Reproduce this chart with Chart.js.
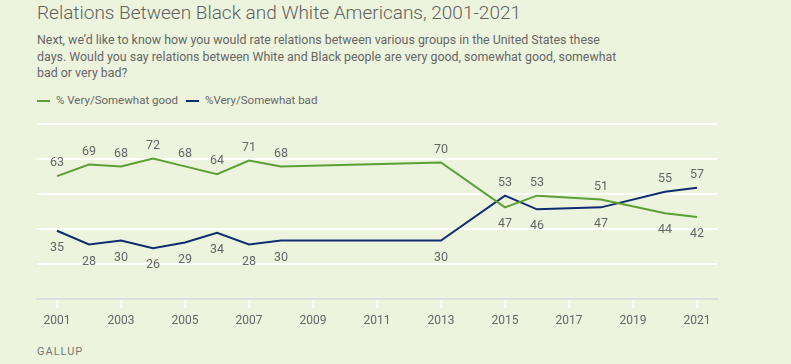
<!DOCTYPE html>
<html>
<head>
<meta charset="utf-8">
<script src="https://cdn.jsdelivr.net/npm/chart.js@4"></script>
<style>
  body { margin: 0; background: #edf4de; width: 791px; height: 364px; overflow: hidden; font-family: Roboto, "Open Sans", sans-serif; color: #666; position: relative; }
  #title { position: absolute; left: 37px; top: 1px; font-size: 19px; font-weight: 300; color: #606060; white-space: nowrap; }
  #sub { position: absolute; left: 37px; top: 32px; font-size: 12.4px; line-height: 16.5px; color: #666; white-space: nowrap; }
  #legend { position: absolute; left: 37px; top: 93px; font-size: 11.5px; color: #666; }
  #legend span.item { margin-right: 5px; }
  #legend span.sw { display: inline-block; width: 13px; height: 2px; vertical-align: middle; margin-right: 6px; }
  #src { position: absolute; left: 37px; top: 345px; font-size: 11px; letter-spacing: 1px; color: #777; }
  #wrap { position: absolute; left: 0; top: 0; width: 791px; height: 364px; }
</style>
</head>
<body>
<div id="title">Relations Between Black and White Americans, 2001-2021</div>
<div id="sub">Next, we’d like to know how you would rate relations between various groups in the United States these<br>days. Would you say relations between White and Black people are very good, somewhat good, somewhat<br>bad or very bad?</div>
<div id="legend"><span class="item"><span class="sw" style="background:#5aa033"></span>% Very/Somewhat good</span> <span class="item"><span class="sw" style="background:#0e2d6e"></span>%Very/Somewhat bad</span></div>
<div id="src">GALLUP</div>
<div id="wrap"><canvas id="chart"></canvas></div>
<script>
const years = [2001, 2002, 2003, 2004, 2005, 2006, 2007, 2008, 2013, 2015, 2016, 2018, 2020, 2021];
const good = [63, 69, 68, 72, 68, 64, 71, 68, 70, 47, 53, 51, 44, 42];
const bad = [35, 28, 30, 26, 29, 34, 28, 30, 30, 53, 46, 47, 55, 57];
const xTicks = [2001, 2003, 2005, 2007, 2009, 2011, 2013, 2015, 2017, 2019, 2021];
const yGrid = [0, 18, 36, 54, 72, 90];

const green = '#5aa033';
const navy = '#0e2d6e';

// labels above or below each point
const pointLabels = {
  id: 'pointLabels',
  afterDatasetsDraw(chart) {
    const ctx = chart.ctx;
    ctx.save();
    ctx.font = '12.5px Roboto, sans-serif';
    ctx.fillStyle = '#666';
    ctx.textAlign = 'center';
    ctx.textBaseline = 'middle';
    chart.data.datasets.forEach((ds, i) => {
      const other = chart.data.datasets[1 - i].data;
      chart.getDatasetMeta(i).data.forEach((pt, j) => {
        const v = ds.data[j].y;
        const above = v >= other[j].y;
        ctx.fillText(String(v), pt.x, above ? pt.y - 13 : pt.y + 17);
      });
    });
    ctx.restore();
  }
};

new Chart(document.getElementById('chart'), {
  type: 'line',
  data: {
    datasets: [
      { label: '% Very/Somewhat good', data: years.map((y, i) => ({ x: y, y: good[i] })), borderColor: green, borderWidth: 2, pointRadius: 0, tension: 0 },
      { label: '%Very/Somewhat bad', data: years.map((y, i) => ({ x: y, y: bad[i] })), borderColor: navy, borderWidth: 2, pointRadius: 0, tension: 0 }
    ]
  },
  options: {
    responsive: true,
    maintainAspectRatio: false,
    animation: false,
    layout: { padding: { left: 37, right: 74, top: 104, bottom: 35 } },
    plugins: { legend: { display: false }, tooltip: { enabled: false } },
    scales: {
      x: {
        type: 'linear',
        min: 2000.375,
        max: 2021.625,
        afterBuildTicks: s => { s.ticks = xTicks.map(v => ({ value: v })); },
        afterFit: s => { s.height = 30; },
        border: { color: '#dddddd', width: 2 },
        grid: { drawOnChartArea: false, color: '#ffffff', lineWidth: 2, tickLength: 9 },
        ticks: { color: '#666', padding: 6, font: { family: '"Liberation Sans Narrow", Roboto, sans-serif', size: 12 }, callback: v => String(v) }
      },
      y: {
        min: 0,
        max: 100,
        afterBuildTicks: s => { s.ticks = yGrid.map(v => ({ value: v })); },
        afterFit: s => { s.width = 0; },
        border: { display: false },
        grid: { color: c => c.tick.value === 0 ? 'rgba(0,0,0,0)' : '#ffffff', lineWidth: 2, drawTicks: false },
        ticks: { display: false }
      }
    }
  },
  plugins: [pointLabels]
});
</script>
</body>
</html>
